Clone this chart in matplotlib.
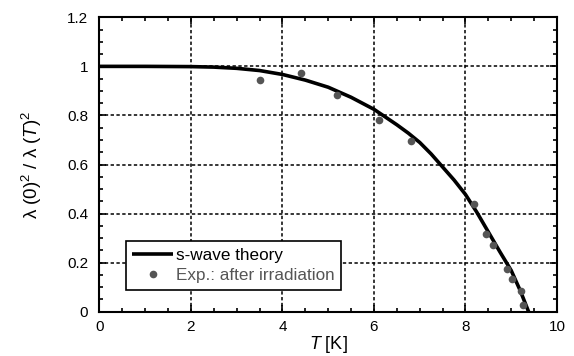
import matplotlib
matplotlib.use("Agg")
import matplotlib.pyplot as plt
from matplotlib.ticker import MultipleLocator

plt.rcParams['font.family'] = ['Liberation Sans', 'DejaVu Sans']
plt.rcParams['mathtext.fontset'] = 'custom'
plt.rcParams['mathtext.it'] = 'Liberation Sans:italic'
plt.rcParams['mathtext.rm'] = 'Liberation Sans'

# s-wave theory curve
T_theory = [0, 1, 2, 2.5, 3, 3.5, 4, 4.5, 5, 5.5, 6, 6.5, 6.75, 7, 7.25,
            7.5, 7.75, 8, 8.25, 8.5, 8.75, 9, 9.2, 9.38]
rho_theory = [1.0, 1.0, 0.999, 0.997, 0.992, 0.983, 0.967, 0.944, 0.915,
              0.874, 0.825, 0.762, 0.728, 0.690, 0.643, 0.590, 0.537,
              0.478, 0.405, 0.325, 0.245, 0.168, 0.085, 0.0]

# experimental points after irradiation
T_exp = [3.51, 4.40, 5.20, 6.11, 6.80, 8.19, 8.45, 8.61, 8.90, 9.01, 9.21, 9.26]
rho_exp = [0.945, 0.972, 0.885, 0.782, 0.695, 0.439, 0.315, 0.271, 0.173,
           0.132, 0.086, 0.026]

fig = plt.figure(figsize=(5.74, 3.56), dpi=100)
ax = fig.add_axes([0.1733, 0.1244, 0.797, 0.827])

ax.plot(T_theory, rho_theory, color='black', lw=2.6, label='s-wave theory',
        zorder=3, solid_capstyle='butt', solid_joinstyle='round')
ax.plot(T_exp, rho_exp, 'o', color='#555555', ms=5.5, mec='none',
        label='Exp.: after irradiation', zorder=4)

ax.set_xlim(0, 10)
ax.set_ylim(0, 1.2)
ax.xaxis.set_minor_locator(MultipleLocator(0.5))
ax.yaxis.set_minor_locator(MultipleLocator(0.05))
ax.set_xticks([0, 2, 4, 6, 8, 10])
ax.set_xticklabels(['0', '2', '4', '6', '8', '10'])
ax.set_yticks([0, 0.2, 0.4, 0.6, 0.8, 1.0, 1.2])
ax.set_yticklabels(['0', '0.2', '0.4', '0.6', '0.8', '1', '1.2'])

ax.tick_params(which='both', direction='in', top=True, right=True,
               labelsize=11, width=1.2)
ax.tick_params(axis='x', pad=6)
ax.tick_params(axis='y', pad=8)
ax.tick_params(which='major', length=5)
ax.tick_params(which='minor', length=3)
for s in ax.spines.values():
    s.set_linewidth(1.5)

ax.grid(True, which='major', color='black', linestyle=(0, (2.2, 1.6)), lw=1.1)

ax.set_xlabel(r'$\mathit{T}$ [K]', fontsize=13, labelpad=0)
ax.set_ylabel('λ (0)$^2$ / λ ($\\mathit{T}$)$^2$', fontsize=13.5, labelpad=17)

leg = ax.legend(loc='lower left', bbox_to_anchor=(0.057, 0.074), fontsize=12.3,
                frameon=True, fancybox=False, framealpha=1, edgecolor='black',
                borderpad=0.4, handlelength=2.4, handletextpad=0.15,
                labelspacing=0.3, borderaxespad=0)
leg.get_frame().set_linewidth(1.2)
leg.get_texts()[1].set_color('#555555')

plt.savefig('out.png', dpi=100)
